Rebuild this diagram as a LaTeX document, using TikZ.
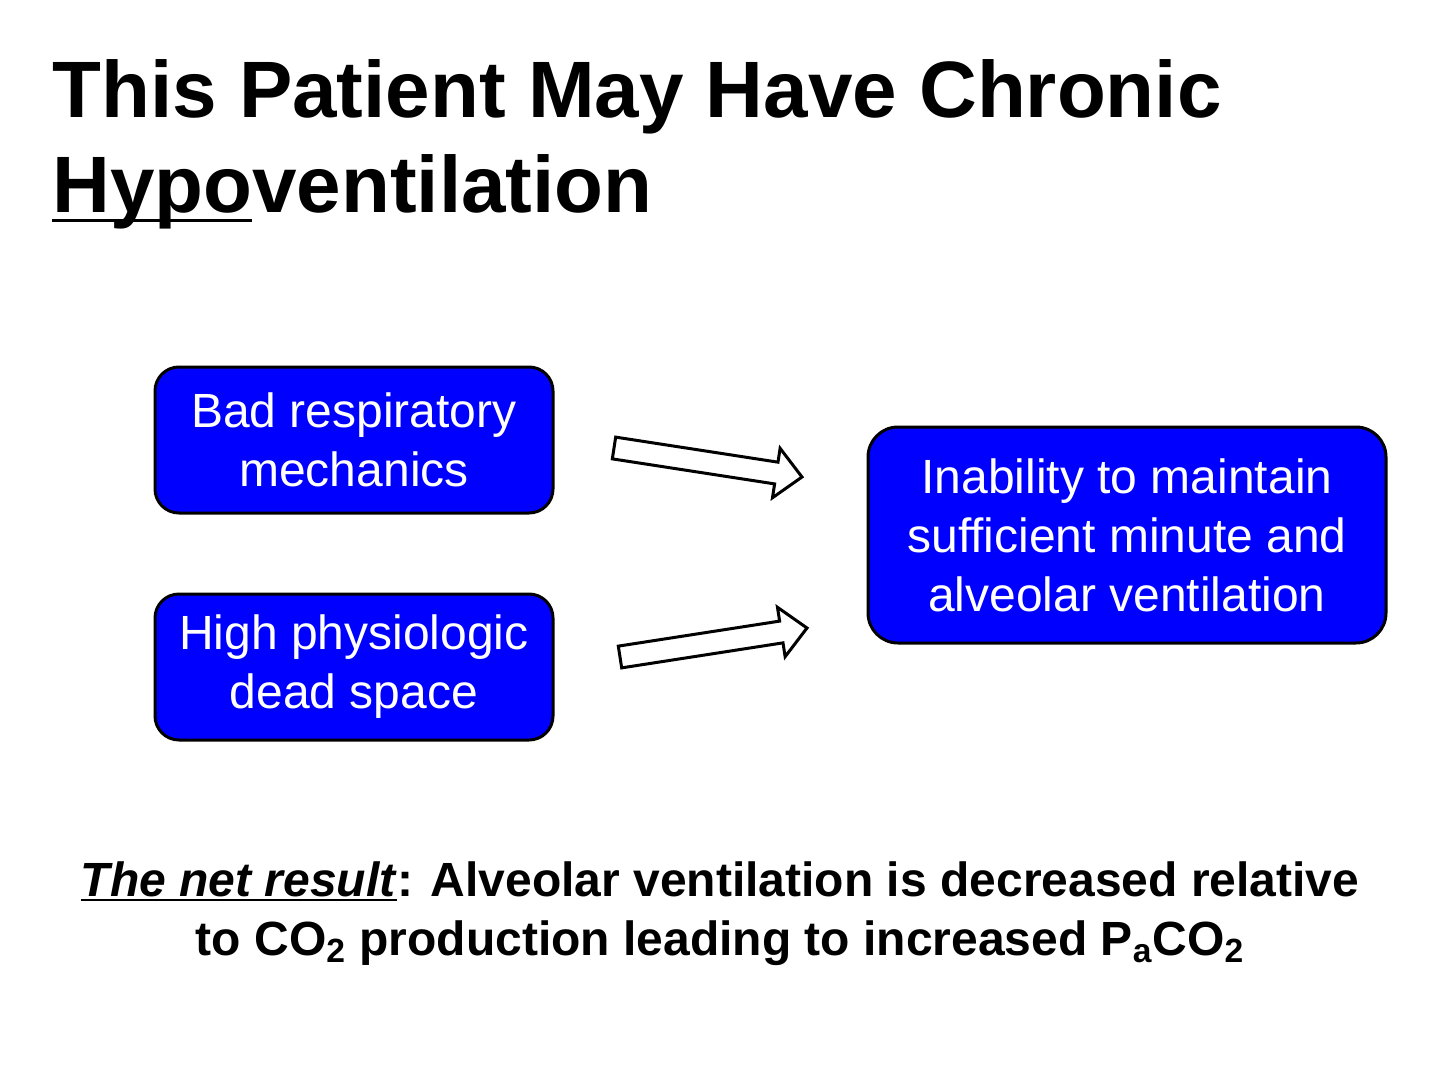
\documentclass[tikz,border=0pt]{standalone}
\usepackage{fontspec}
\setmainfont{Liberation Sans}
\usetikzlibrary{positioning}
\definecolor{boxblue}{RGB}{0,0,255}

\newlength{\ullen}
\newcommand{\lowunder}[1]{\settowidth{\ullen}{#1}\rlap{\rule[-0.11em]{\ullen}{0.04em}}#1}

\tikzset{
  causebox/.style={draw=black, line width=1.5pt, fill=boxblue, text=white,
    rounded corners=12pt, align=center, inner sep=0pt,
    font=\fontsize{24}{29.5}\selectfont},
  fatarrow/.style={draw=black, line width=1.5pt, fill=white, line join=miter},
  titletext/.style={anchor=base west, inner sep=0pt,
    font=\fontsize{40}{47.5}\selectfont\bfseries},
  nettext/.style={anchor=base, inner sep=0pt,
    font=\fontsize{24}{29}\selectfont\bfseries},
}

\begin{document}
\begin{tikzpicture}[x=0.5pt,y=-0.5pt]
        \useasboundingbox (0,0) rectangle (1440,1065);

        % title
        \node[titletext] (title1) at (52,118) {This Patient May Have Chronic};
        \node[titletext] (title2) at (52,213) {\lowunder{Hypo}ventilation};

        % boxes
        \node[causebox, minimum width=199pt, minimum height=73pt] (mech) at (354,440)
          {Bad respiratory\\mechanics};
        \node[causebox, minimum width=199pt, minimum height=73pt] (dead) at (354,667)
          {High physiologic\\dead space};
        \node[causebox, rounded corners=15pt, minimum width=259pt, minimum height=108pt] (unable) at (1127,535)
          {Inability to maintain\\sufficient minute and\\alveolar ventilation};

        % block arrows
        \foreach \sx/\sy/\ex/\ey in {614/448/802/477, 620/657/807/628} {
          \pgfmathsetmacro{\arrlen}{veclen(\ex-\sx,\ey-\sy)}
          \pgfmathsetmacro{\arrang}{atan2(\sy-\ey,\ex-\sx)}
          \draw[fatarrow, shift={(\sx,\sy)}, rotate=\arrang]
            (0,-11) -- (\arrlen-26,-11) -- (\arrlen-26,-25) -- (\arrlen,0)
            -- (\arrlen-26,25) -- (\arrlen-26,11) -- (0,11) -- cycle;
        };

        % net result
        \node[nettext] (net1) at (720,896)
          {\lowunder{\textit{The net result}}: Alveolar ventilation is decreased relative};
        \node[nettext] (net2) at (720,955)
          {to CO\textsubscript{2} production leading to increased P\textsubscript{a}CO\textsubscript{2}};
\end{tikzpicture}
\end{document}
